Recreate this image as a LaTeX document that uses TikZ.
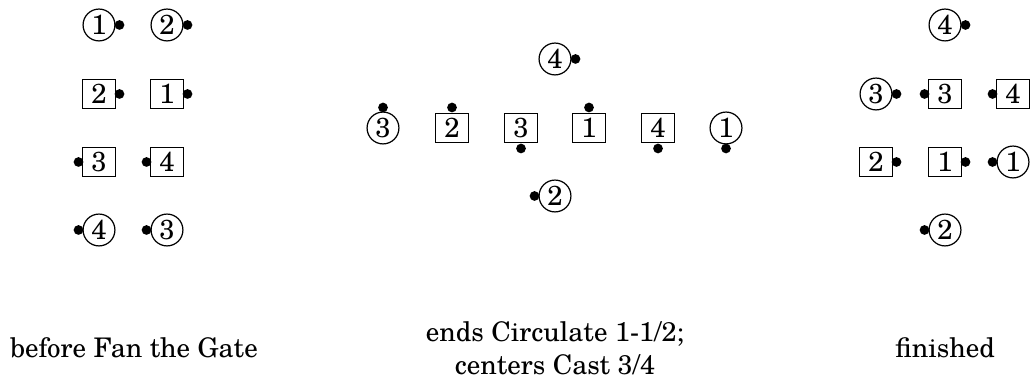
\documentclass[tikz,border=0pt]{standalone}
\usepackage{fontspec}
\setmainfont{texgyreschola}[Extension=.otf,UprightFont=*-regular,BoldFont=*-bold,ItalicFont=*-italic,BoldItalicFont=*-bolditalic]
\begin{document}
\begin{tikzpicture}[x=0.3704pt,y=-0.3704pt,
  girl/.style={draw,circle,line width=0.45pt,inner sep=0pt,minimum size=11.8pt,font=\fontsize{10.2}{12}\selectfont},
  boy/.style={draw,rectangle,line width=0.45pt,inner sep=0pt,minimum width=12.1pt,minimum height=10.9pt,font=\fontsize{10.2}{12}\selectfont},
  dot/.style={circle,fill=black,inner sep=0pt,minimum size=3.6pt},
  caption/.style={anchor=base,inner sep=0pt,font=\fontsize{10}{12}\selectfont}]
\useasboundingbox (0,0) rectangle (1032,384);
% ---------- left: before Fan the Gate ----------
\node[girl] (a1) at (99,25) {1};
\node[dot] (a1d) at ([shift={(20.5,0)}]a1.center) {};
\node[girl] (a2) at (167,25) {2};
\node[dot] (a2d) at ([shift={(20.5,0)}]a2.center) {};
\node[boy] (b2) at (99,94) {2};
\node[dot] (b2d) at ([shift={(20.5,0)}]b2.center) {};
\node[boy] (b1) at (167,94) {1};
\node[dot] (b1d) at ([shift={(20.5,0)}]b1.center) {};
\node[boy] (b3) at (99,162) {3};
\node[dot] (b3d) at ([shift={(-20.5,0)}]b3.center) {};
\node[boy] (b4) at (167,162) {4};
\node[dot] (b4d) at ([shift={(-20.5,0)}]b4.center) {};
\node[girl] (a4) at (99,230) {4};
\node[dot] (a4d) at ([shift={(-20.5,0)}]a4.center) {};
\node[girl] (a3) at (167,230) {3};
\node[dot] (a3d) at ([shift={(-20.5,0)}]a3.center) {};
\node[caption] (capa) at (134,358) {before Fan the Gate};
% ---------- middle ----------
\node[girl] (m4) at (555,59) {4};
\node[dot] (m4d) at ([shift={(20.5,0)}]m4.center) {};
\node[girl] (m3) at (383,128) {3};
\node[dot] (m3d) at ([shift={(0,-20.5)}]m3.center) {};
\node[boy] (n2) at (452,128) {2};
\node[dot] (n2d) at ([shift={(0,-20.5)}]n2.center) {};
\node[boy] (n3) at (521,128) {3};
\node[dot] (n3d) at ([shift={(0,20.5)}]n3.center) {};
\node[boy] (n1) at (589,128) {1};
\node[dot] (n1d) at ([shift={(0,-20.5)}]n1.center) {};
\node[boy] (n4) at (658,128) {4};
\node[dot] (n4d) at ([shift={(0,20.5)}]n4.center) {};
\node[girl] (m1) at (726,128) {1};
\node[dot] (m1d) at ([shift={(0,20.5)}]m1.center) {};
\node[girl] (m2) at (555,196) {2};
\node[dot] (m2d) at ([shift={(-20.5,0)}]m2.center) {};
\node[caption] (capm1) at (555,342) {ends Circulate 1-1/2;};
\node[caption] (capm2) at (555,375) {centers Cast 3/4};
% ---------- right: finished ----------
\node[girl] (r4) at (945,25) {4};
\node[dot] (r4d) at ([shift={(20.5,0)}]r4.center) {};
\node[girl] (r3) at (876,94) {3};
\node[dot] (r3d) at ([shift={(20.5,0)}]r3.center) {};
\node[boy] (s3) at (945,94) {3};
\node[dot] (s3d) at ([shift={(-20.5,0)}]s3.center) {};
\node[boy] (s4) at (1013,94) {4};
\node[dot] (s4d) at ([shift={(-20.5,0)}]s4.center) {};
\node[boy] (s2) at (876,162) {2};
\node[dot] (s2d) at ([shift={(20.5,0)}]s2.center) {};
\node[boy] (s1) at (945,162) {1};
\node[dot] (s1d) at ([shift={(20.5,0)}]s1.center) {};
\node[girl] (r1) at (1013,162) {1};
\node[dot] (r1d) at ([shift={(-20.5,0)}]r1.center) {};
\node[girl] (r2) at (945,230) {2};
\node[dot] (r2d) at ([shift={(-20.5,0)}]r2.center) {};
\node[caption] (capr) at (945,358) {finished};
\end{tikzpicture}
\end{document}
